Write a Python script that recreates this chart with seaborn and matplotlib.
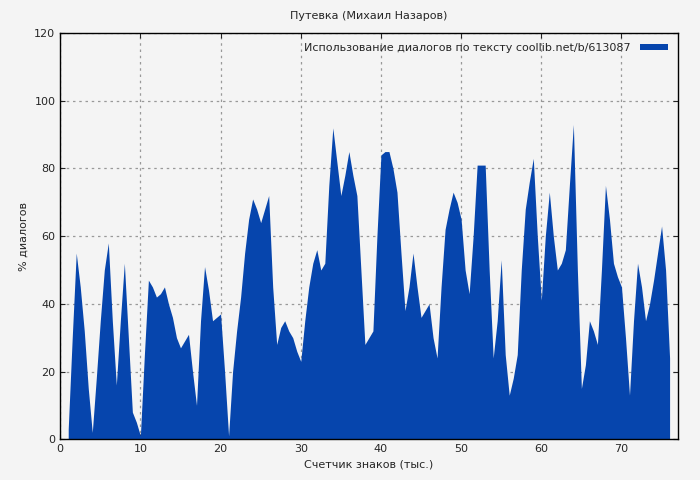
import numpy as np
import matplotlib
matplotlib.use("Agg")
import matplotlib.pyplot as plt
import seaborn as sns

x_vals = [1, 1.5, 2, 2.5, 3, 3.5, 4, 4.5, 5, 5.5, 6, 6.5, 7, 7.5, 8, 8.5, 9, 9.5, 10, 10.5,
          11, 11.5, 12, 12.5, 13, 13.5, 14, 14.5, 15, 15.5, 16, 16.5, 17, 17.5, 18, 18.5, 19, 19.5, 20, 20.5,
          21, 21.5, 22, 22.5, 23, 23.5, 24, 24.5, 25, 25.5, 26, 26.5, 27, 27.5, 28, 28.5, 29, 29.5, 30, 30.5,
          31, 31.5, 32, 32.5, 33, 33.5, 34, 34.5, 35, 35.5, 36, 36.5, 37, 37.5, 38, 38.5, 39, 39.5, 40, 40.5,
          41, 41.5, 42, 42.5, 43, 43.5, 44, 44.5, 45, 45.5, 46, 46.5, 47, 47.5, 48, 48.5, 49, 49.5, 50, 50.5,
          51, 51.5, 52, 52.5, 53, 53.5, 54, 54.5, 55, 55.5, 56, 56.5, 57, 57.5, 58, 58.5, 59, 59.5, 60, 60.5,
          61, 61.5, 62, 62.5, 63, 63.5, 64, 64.5, 65, 65.5, 66, 66.5, 67, 67.5, 68, 68.5, 69, 69.5, 70, 70.5,
          71, 71.5, 72, 72.5, 73, 73.5, 74, 74.5, 75, 75.5, 76]
dialog_pct = [3, 30, 55, 45, 32, 15, 2, 18, 35, 50, 58, 35, 16, 35, 52, 30, 8, 5, 1, 25,
              47, 45, 42, 43, 45, 40, 36, 30, 27, 29, 31, 20, 10, 35, 51, 44, 35, 36, 37, 20,
              1, 20, 32, 42, 55, 65, 71, 68, 64, 68, 72, 45, 28, 33, 35, 32, 30, 26, 23, 35,
              45, 52, 56, 50, 52, 75, 92, 82, 72, 78, 85, 78, 72, 50, 28, 30, 32, 60, 84, 85,
              85, 80, 73, 55, 38, 45, 55, 45, 36, 38, 40, 30, 24, 45, 62, 68, 73, 70, 65, 50,
              43, 60, 81, 81, 81, 50, 24, 35, 53, 25, 13, 18, 25, 50, 68, 76, 83, 60, 41, 60,
              73, 60, 50, 52, 56, 75, 93, 50, 15, 22, 35, 32, 28, 50, 75, 65, 52, 48, 45, 30,
              13, 35, 52, 45, 35, 40, 47, 55, 63, 50, 24]

sns.set_style("ticks")
plt.rcParams['font.family'] = ['DejaVu Sans']

fig, ax = plt.subplots(figsize=(7, 4.8), dpi=100)
fig.patch.set_facecolor('#f4f4f4')
ax.set_facecolor('#f4f4f4')

ax.fill_between(x_vals, dialog_pct, 0, color='#0645ad', linewidth=0,
                label='Использование диалогов по тексту coollib.net/b/613087')

ax.set_xlim(0, 77)
ax.set_ylim(0, 120)
ax.set_xticks(range(0, 71, 10))
ax.set_yticks(range(0, 121, 20))
ax.grid(True, color='#999999', linestyle=(0, (2, 3)), linewidth=0.9)
ax.set_axisbelow(True)
ax.tick_params(direction='in', labelsize=8, top=True, right=True)
for s in ax.spines.values():
    s.set_color('black')
    s.set_linewidth(1)

ax.set_title('Путевка (Михаил Назаров)', fontsize=8, pad=10)
ax.set_xlabel('Счетчик знаков (тыс.)', fontsize=8)
ax.set_ylabel('% диалогов', fontsize=8)
leg = ax.legend(loc='upper right', fontsize=8, frameon=False, markerfirst=False,
                handlelength=2.5, handleheight=0.4)

plt.subplots_adjust(left=0.086, right=0.968, top=0.931, bottom=0.085)
plt.savefig('out.png', dpi=100, facecolor=fig.get_facecolor())
